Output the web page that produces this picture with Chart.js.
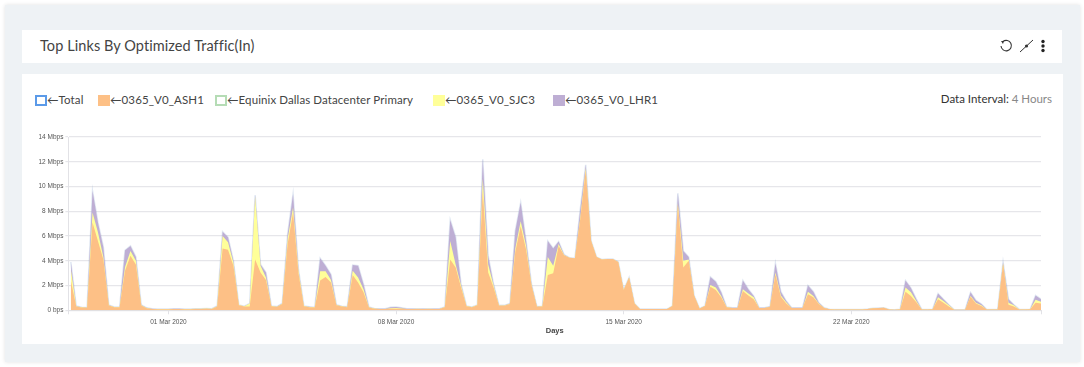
<!DOCTYPE html>
<html>
<head>
<meta charset="utf-8">
<title>Top Links By Optimized Traffic(In)</title>
<script src="https://cdn.jsdelivr.net/npm/chart.js@4"></script>
<style>
  html, body { margin: 0; padding: 0; background: #fff; overflow: hidden; }
  body { width: 1084px; height: 367px; position: relative; font-family: Lato, sans-serif; }
  .panel { position: absolute; left: 5px; top: 5px; width: 1075px; height: 357px; background: #eef2f5; box-shadow: 0 0 4px rgba(0,0,0,.12); }
  .box { position: absolute; background: #fff; }
  #head { left: 22px; top: 30px; width: 1040px; height: 33px; }
  #body { left: 22px; top: 74px; width: 1041px; height: 270px; }
  #title { position: absolute; left: 40px; top: 37px; font-size: 14.5px; line-height: 18px; color: #444; letter-spacing: .08px; white-space: nowrap; }
  #legend span { position: absolute; top: 93px; font-size: 11.5px; line-height: 14px; color: #444; letter-spacing: .1px; white-space: nowrap; }
  #legend i { position: absolute; top: 95px; width: 12px; height: 11px; box-sizing: border-box; }
  #interval { position: absolute; right: 32px; top: 92px; font-size: 11.5px; line-height: 14px; color: #333; white-space: nowrap; }
  #interval b { font-weight: normal; color: #888; }
  #icons { position: absolute; left: 998px; top: 38px; }
  #myChart { position: absolute; left: 22px; top: 74px; }
</style>
</head>
<body>
<div class="panel"></div>
<div class="box" id="head"></div>
<div class="box" id="body"></div>
<div id="title">Top Links By Optimized Traffic(In)</div>
<svg id="icons" width="54" height="16" viewBox="0 0 54 16">
  <path d="M5 3.5 A5.2 5.2 0 1 1 3 8" fill="none" stroke="#333" stroke-width="1.1"/>
  <path d="M3 3 L6 3 L5 6 Z" fill="#333"/>
  <path d="M22 14 L35 2" stroke="#333" stroke-width="1"/>
  <circle cx="28.5" cy="8" r="1.6" fill="#333"/>
  <circle cx="45" cy="3.5" r="1.7" fill="#222"/>
  <circle cx="45" cy="8" r="1.7" fill="#222"/>
  <circle cx="45" cy="12.5" r="1.7" fill="#222"/>
</svg>
<div id="legend"></div>
<div id="interval">Data Interval: <b>4 Hours</b></div>
<canvas id="myChart" width="1041" height="270"></canvas>

<script>
const seriesNames = ['Total', '0365_V0_ASH1', 'Equinix Dallas Datacenter Primary', '0365_V0_SJC3', '0365_V0_LHR1'];
const legendLeft = [35, 98, 215, 433, 553];

const yTickLabels = ['0 bps', '2 Mbps', '4 Mbps', '6 Mbps', '8 Mbps', '10 Mbps', '12 Mbps', '14 Mbps'];
const dateTicks = [18, 60, 102, 144];   // index of the 4 hour sample at midnight
const dateLabels = ['01 Mar 2020', '08 Mar 2020', '15 Mar 2020', '22 Mar 2020'];

// Mbps, one value every 4 hours starting 27 Feb 2020
const ash = [
  2.4,.3,.22,.2,7.1,5.6,4.1,.38,.24,.24,
  3.2,4.4,3.7,.38,.17,.1,.09,.09,.09,.1,
  .1,.09,.09,.11,.11,.12,.11,.3,5.0,4.9,
  3.6,.4,.3,.3,4.1,3.05,2.45,.32,.27,.5,
  5.35,7.9,3.0,.32,.25,.22,2.4,2.7,2.25,.4,
  .3,.25,2.85,2.25,1.45,.22,.12,.1,.1,.12,
  .13,.12,.1,.1,.11,.1,.11,.1,.1,.25,
  4.1,3.45,1.85,.32,.25,.4,9.65,3.05,1.85,.37,
  .37,.5,4.7,6.8,4.9,2.0,.28,.3,2.85,3.0,
  5.2,4.45,4.25,4.2,7.4,11.3,5.6,4.3,4.1,4.15,
  4.15,3.9,1.65,2.65,.55,.1,.1,.1,.1,.1,
  .1,.35,8.55,3.45,4.0,1.2,.15,.35,1.9,1.65,
  1.05,.25,.18,.18,1.55,1.2,.9,.18,.18,.28,
  2.9,1.1,.55,.18,.18,.18,1.3,1.05,.5,.18,
  .08,.06,.06,.06,.06,.06,.06,.1,.16,.18,
  .2,.07,.05,.09,1.5,1.15,.65,.07,.07,.09,
  .9,.6,.3,.05,.05,.05,1.1,.55,.35,.06,
  .06,.06,3.75,.45,.3,.07,.07,.09,.6,.55
];
const sjc = [
  .9,.03,.02,.01,.8,.7,.2,.03,.02,.02,
  .3,.4,.3,.03,.02,.01,.01,.01,.01,.01,
  .01,.01,.01,.01,.01,.02,.01,.03,1.0,.6,
  .25,.02,.02,.25,5.1,.55,.2,.02,.02,.03,
  .4,.4,.2,.02,.02,.02,.75,.45,.2,.03,
  .02,.02,.35,.4,.25,.02,.02,.01,.01,.05,
  .05,.03,.01,.01,.01,.01,.01,.01,.01,.01,
  1.5,.25,.15,.02,.01,.02,1.0,.65,.15,.02,
  .02,.03,.3,.4,.3,.05,.01,.02,1.45,.6,
  .15,.02,0,0,.1,.2,0,0,0,0,
  0,0,0,0,0,0,0,0,0,0,
  0,0,.1,.55,.1,0,0,0,.15,.2,
  .1,.01,.01,.01,.15,.15,.15,.01,.01,.01,
  .15,.1,.1,.01,.01,.01,.2,.1,.05,.01,
  0,0,0,0,0,0,0,0,0,0,
  0,0,0,0,.35,.3,.1,0,0,0,
  .15,.15,.1,0,0,0,.05,.05,.05,0,
  0,0,.05,.15,.1,0,0,0,.25,.15
];
const lhr = [
  .6,.02,.01,.01,1.75,.8,.8,.02,.01,.01,
  1.35,.4,.3,.02,.01,.01,.01,.01,.01,.01,
  .01,.01,.01,.01,.01,.01,.01,.02,.35,.4,
  .15,.01,.01,0,.1,.1,.4,.01,.01,.02,
  .4,1.1,.1,.01,.01,.01,1.05,.45,.45,.02,
  .01,.01,.45,.95,.4,.03,.01,.01,.01,.08,
  .09,.05,.01,.01,.01,.01,.01,.01,.01,.01,
  1.7,2.2,.1,.01,.01,.01,1.55,.7,.1,.01,
  .01,.02,1.4,1.5,.4,.05,.01,.01,1.3,1.4,
  .2,.03,0,0,.7,.25,0,0,0,0,
  0,0,0,0,0,0,0,0,0,0,
  0,0,.8,.8,.2,0,0,0,.65,.45,
  .3,.01,.01,.01,.7,.35,.1,.01,.01,.01,
  .75,.3,.1,.01,.01,.01,.5,.35,.05,.01,
  0,0,0,0,0,0,0,0,0,0,
  0,0,0,0,.55,.35,.15,0,0,0,
  .3,.15,.05,0,0,0,.3,.2,.1,0,
  0,0,.1,.3,.05,0,0,0,.35,.2
];
const total = [
  3.9,.35,.25,.22,9.65,7.1,5.1,.43,.27,.27,
  4.85,5.2,4.3,.43,.2,.12,.11,.11,.11,.12,
  .12,.11,.11,.13,.13,.15,.13,.35,6.35,5.9,
  4.0,.43,.33,.55,9.3,3.7,3.05,.35,.3,.55,
  6.15,9.4,3.3,.35,.28,.25,4.2,3.6,2.9,.45,
  .33,.28,3.65,3.6,2.1,.27,.15,.12,.12,.25,
  .27,.2,.12,.12,.13,.12,.13,.12,.12,.27,
  7.3,5.9,2.1,.35,.27,.43,12.2,4.4,2.1,.4,
  .4,.55,6.4,8.7,5.6,2.1,.3,.33,5.6,5.0,
  5.55,4.5,4.25,4.2,8.2,11.75,5.6,4.3,4.1,4.15,
  4.15,3.9,1.65,2.65,.55,.1,.1,.1,.1,.1,
  .1,.35,9.45,4.8,4.3,1.2,.15,.35,2.7,2.3,
  1.45,.27,.2,.2,2.4,1.7,1.15,.2,.2,.3,
  3.8,1.5,.75,.2,.2,.2,2.0,1.5,.6,.2,
  .08,.06,.06,.06,.06,.06,.06,.1,.16,.18,
  .2,.07,.05,.09,2.4,1.8,.9,.07,.07,.09,
  1.35,.9,.45,.05,.05,.05,1.45,.8,.5,.06,
  .06,.06,3.9,.9,.45,.07,.07,.09,1.2,.9
];

const colors = {
  total: '#5b9ae8',
  ash: '#fdc086',
  equinix: '#b5dcb5',
  sjc: '#ffff99',
  lhr: '#beaed4'
};

// legend
const swatches = [
  'border:2px solid ' + colors.total,
  'background:' + colors.ash,
  'border:2px solid ' + colors.equinix,
  'background:' + colors.sjc,
  'background:' + colors.lhr
];
const legend = document.getElementById('legend');
seriesNames.forEach(function (name, i) {
  const box = document.createElement('i');
  box.style.cssText = 'left:' + legendLeft[i] + 'px;' + swatches[i];
  legend.appendChild(box);
  const label = document.createElement('span');
  label.style.left = (legendLeft[i] + 12) + 'px';
  label.textContent = '\u2190' + name;
  legend.appendChild(label);
});

function points(values) {
  return values.map(function (v, i) { return { x: i, y: v }; });
}

const ctx = document.getElementById('myChart');

new Chart(ctx, {
  type: 'line',
  data: {
    datasets: [
      { label: seriesNames[1], data: points(ash), backgroundColor: colors.ash, borderWidth: 0, fill: 'origin', stack: 'links', order: 1 },
      { label: seriesNames[3], data: points(sjc), backgroundColor: colors.sjc, borderWidth: 0, fill: 'origin', stack: 'links', order: 2 },
      { label: seriesNames[4], data: points(lhr), backgroundColor: colors.lhr, borderWidth: 0, fill: 'origin', stack: 'links', order: 3 },
      { label: seriesNames[0], data: points(total), borderColor: 'rgba(56,108,176,.16)', borderWidth: 1.5, fill: false, stack: 'total', order: 4 }
    ]
  },
  options: {
    responsive: false,
    animation: false,
    events: [],
    elements: { point: { radius: 0 }, line: { tension: 0 } },
    layout: { padding: { left: 0, right: 22, top: 63, bottom: 8.7 } },
    plugins: { legend: { display: false }, tooltip: { enabled: false } },
    scales: {
      x: {
        type: 'linear',
        min: -0.45,
        max: 179,
        afterBuildTicks: function (scale) {
          scale.ticks = [-0.45].concat(dateTicks, [179]).map(function (v) { return { value: v }; });
        },
        afterFit: function (scale) { scale.height = 25; },
        grid: { drawOnChartArea: false, color: '#e2e2e6', tickLength: 4 },
        border: { color: '#e2e2e6' },
        ticks: {
          autoSkip: false,
          maxRotation: 0,
          color: '#555',
          padding: 4,
          font: { family: 'Liberation Sans', size: 6.5 },
          callback: function (v) {
            const k = dateTicks.indexOf(v);
            return k < 0 ? '' : dateLabels[k];
          }
        },
        title: {
          display: true,
          text: 'Days',
          color: '#444',
          padding: { top: 3, bottom: 0 },
          font: { family: 'Liberation Sans', size: 7.5, weight: 'bold' }
        }
      },
      y: {
        stacked: true,
        min: 0,
        max: 14,
        afterFit: function (scale) { scale.width = 46.4; },
        grid: { color: '#e6e6ea', lineWidth: 1.2, tickLength: 3 },
        border: { color: '#e2e2e6' },
        ticks: {
          stepSize: 2,
          color: '#555',
          padding: 2,
          font: { family: 'Liberation Sans', size: 6.5 },
          callback: function (v) { return yTickLabels[v / 2]; }
        }
      }
    }
  }
});
</script>
</body>
</html>
